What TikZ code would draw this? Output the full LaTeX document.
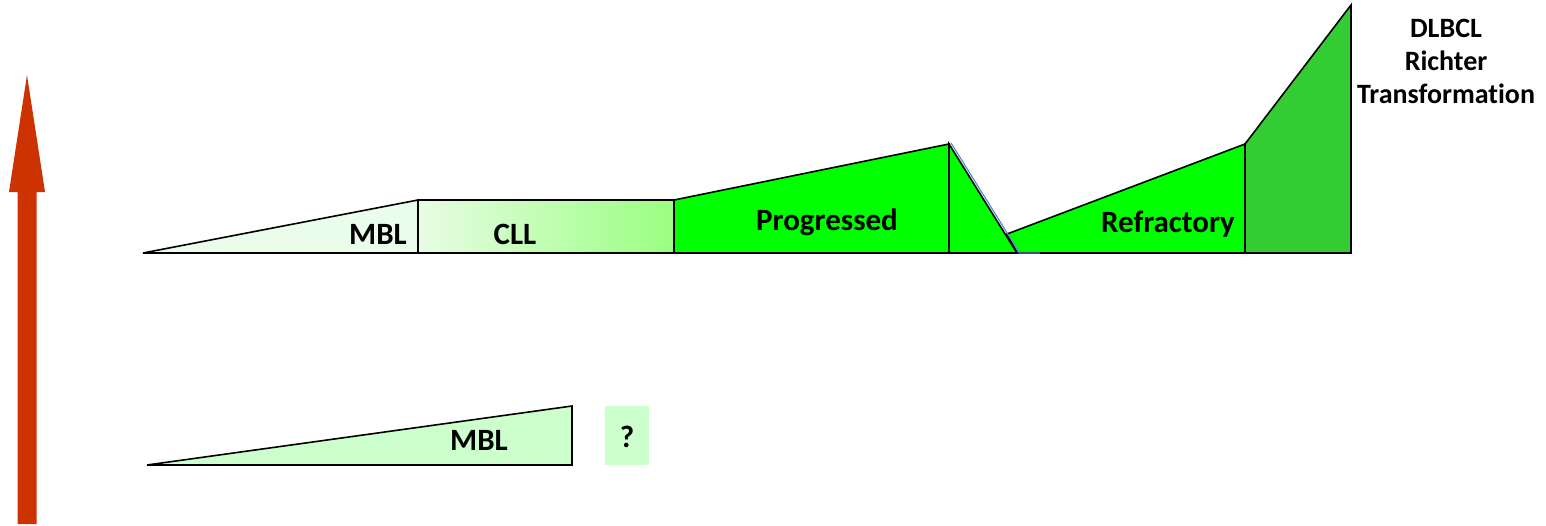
\documentclass[tikz,border=0pt]{standalone}
\usepackage{fontspec}
\setmainfont[Ligatures=NoCommon]{Carlito}
\begin{document}
\begin{tikzpicture}[x=1pt,y=-1pt,
  stage/.style={draw=black,line width=1.6pt,line join=miter},
  lbl/.style={font=\bfseries\fontsize{31}{33}\selectfont,inner sep=0pt,anchor=base},
  side/.style={font=\bfseries\fontsize{28}{33}\selectfont,inner sep=0pt,align=center}]
\definecolor{mblpale}{HTML}{EAFCEA}
\definecolor{clllo}{HTML}{E8FCE4}
\definecolor{cllhi}{HTML}{99FF80}
\definecolor{prog}{HTML}{00FF00}
\definecolor{rich}{HTML}{33CC33}
\definecolor{mblb}{HTML}{CCFFCC}
\definecolor{arrowred}{HTML}{CC3300}
\definecolor{edgeblue}{HTML}{5B8BD0}
\useasboundingbox (0,0) rectangle (1546,525);

% vertical arrow on the left
\fill[arrowred] (17.5,524) -- (17.5,192) -- (9,192) -- (27,75) -- (45,192) -- (36.5,192) -- (36.5,524) -- cycle;

% top row of stages
\draw[stage,fill=mblpale] (143,253) -- (418,200) -- (418,253) -- cycle;
\shade[left color=clllo,right color=cllhi] (418,200) rectangle (674,253);
\draw[stage] (418,200) rectangle (674,253);
\draw[stage,fill=prog] (674,253) -- (674,200) -- (949,144) -- (949,253) -- cycle;
\draw[stage,fill=prog] (1007,234) -- (1245,144) -- (1245,253) -- (1017,253) -- cycle;
\draw[edgeblue,line width=1.2pt] (951,143) -- (1019,252);
\draw[edgeblue!60!black,line width=1.6pt] (949,253) -- (1040,253);
\draw[stage,fill=prog] (949,144) -- (1017,253) -- (949,253) -- cycle;
\draw[stage,fill=rich] (1245,144) -- (1351,5) -- (1351,253) -- (1245,253) -- cycle;

% bottom row
\draw[stage,fill=mblb] (147,465) -- (572,406) -- (572,465) -- cycle;
\fill[mblb] (605,406) rectangle (649,465);

% labels
\node[lbl] (mbl) at (378,244) {MBL};
\node[lbl] (cll) at (515,244) {CLL};
\node[lbl] (progressed) at (827,230) {Progressed};
\node[lbl] (refractory) at (1168,232) {Refractory};
\node[side] (richter) at (1446,61) {DLBCL\\Richter\\Transformation};
\node[lbl] (mbl2) at (479,450) {MBL};
\node[lbl] (unknown) at (627,447) {?};
\end{tikzpicture}
\end{document}
